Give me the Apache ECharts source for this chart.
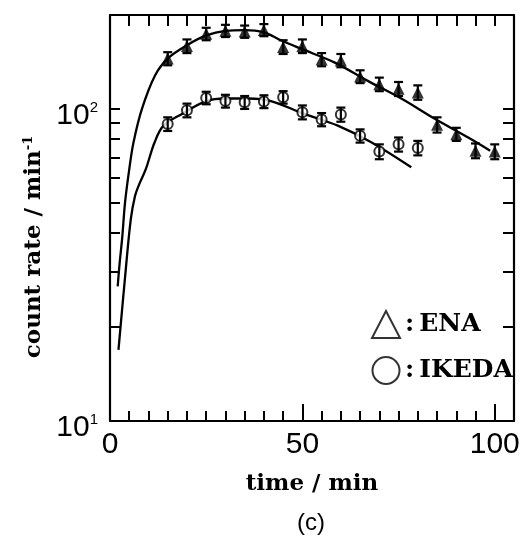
<!DOCTYPE html>
<html>
<head>
<meta charset="utf-8">
<script src="https://cdn.jsdelivr.net/npm/echarts@6/dist/echarts.min.js"></script>
<style>
  html, body { margin: 0; padding: 0; background: #fff; }
  #chart { width: 523px; height: 540px; }
</style>
</head>
<body>
<div id="chart"></div>
<script>
// Measured count rates (min^-1) versus elapsed time (min)
const enaTime = [15, 20, 25, 30, 35, 40, 45, 50, 55, 60, 65, 70, 75, 80, 85, 90, 95, 100];
const enaRate = [145, 159, 174, 178, 177, 179, 158, 159, 144, 143, 127, 120, 116, 113, 89, 83, 73.5, 73];
const enaErr  = [7, 8, 8, 8, 8, 8, 8, 8, 7, 7, 6, 6, 6, 6, 5, 4, 4, 4];

const ikedaTime = [15, 20, 25, 30, 35, 40, 45, 50, 55, 60, 65, 70, 75, 80];
const ikedaRate = [89.5, 99, 108.5, 106, 105, 105.6, 109, 97.6, 92.5, 96, 82, 73, 77, 75];
const ikedaErr  = [4.5, 5, 5, 5, 5, 5, 5, 5, 4.5, 5, 4, 4, 4, 4];

// Fitted growth/decay curves
const enaFitTime = [2.0, 2.5, 3.2, 3.9, 5.0, 6.1, 8.3, 11.7, 15, 20, 25, 30, 35, 40, 44.4, 49.6, 58.3, 67, 75.7, 84.4, 93.1, 98.8];
const enaFitRate = [27, 32, 39, 50, 64, 78, 100, 128, 145, 160, 172, 178, 179, 176, 166, 156, 141, 123, 108, 93, 81, 73.5];

const ikedaFitTime = [2.2, 4.1, 5.4, 6.5, 7.4, 9.3, 11.6, 13.9, 18.7, 25, 30, 36, 41.8, 50.5, 59.2, 67.9, 78.3];
const ikedaFitRate = [16.9, 30.6, 44.3, 52.6, 56.6, 64.1, 78.2, 88.4, 96.4, 106, 108, 108, 106, 96.4, 88.4, 78.2, 65];

// Axis ticks and labels
const xTickValues  = [5, 10, 15, 20, 25, 30, 35, 40, 45, 50, 55, 60, 65, 70, 75, 80, 85, 90, 95, 100];
const xMajorTicks  = [50, 100];
const xLabelValues = [0, 50, 100];
const yTickValues  = [20, 30, 40, 50, 60, 70, 80, 90, 100];
const yLabelValues = [10, 100];

const serif = 'DejaVu Serif';
const sans = 'Liberation Sans';
const black = '#000';

function errorBar(params, api) {
  const x = api.value(0);
  const top = api.coord([x, api.value(2)]);
  const bot = api.coord([x, api.value(1)]);
  const w = 4.5;
  const st = { stroke: black, lineWidth: 2.2 };
  return {
    type: 'group',
    children: [
      { type: 'line', shape: { x1: top[0], y1: top[1], x2: bot[0], y2: bot[1] }, style: st },
      { type: 'line', shape: { x1: top[0] - w, y1: top[1], x2: top[0] + w, y2: top[1] }, style: st },
      { type: 'line', shape: { x1: bot[0] - w, y1: bot[1], x2: bot[0] + w, y2: bot[1] }, style: st }
    ]
  };
}

const chart = echarts.init(document.getElementById('chart'), null, { renderer: 'canvas' });

const axisLine = { show: true, onZero: false, lineStyle: { color: black, width: 2.2 } };
const tickStyle = { color: black, width: 2 };

chart.setOption({
  animation: false,
  backgroundColor: '#fff',
  grid: { left: 110, right: 9, top: 15, bottom: 119 },
  legend: {
    orient: 'vertical',
    left: 366,
    top: 305,
    itemWidth: 28,
    itemHeight: 27,
    itemGap: 17,
    selectedMode: false,
    formatter: ':\u2009{name}',
    textStyle: { fontFamily: serif, fontWeight: 'bold', fontSize: 25, lineHeight: 27, color: black },
    data: [
      { name: 'ENA', icon: 'triangle', itemStyle: { color: '#fff', borderColor: black, borderWidth: 2 } },
      { name: 'IKEDA', icon: 'circle', itemStyle: { color: '#fff', borderColor: black, borderWidth: 2 } }
    ]
  },
  xAxis: [
    {
      type: 'value', min: 0, max: 105, interval: 5, position: 'bottom',
      name: 'time / min', nameLocation: 'middle', nameGap: 52,
      nameTextStyle: { fontFamily: serif, fontWeight: 'bold', fontSize: 23, color: black },
      axisLine: axisLine,
      axisTick: { show: true, inside: true, length: 10, customValues: xTickValues, lineStyle: tickStyle },
      axisLabel: { customValues: xLabelValues, margin: 9, fontFamily: sans, fontSize: 30, color: black },
      splitLine: { show: false }
    },
    {
      type: 'value', min: 0, max: 105, position: 'bottom',
      axisLine: { show: false, onZero: false },
      axisTick: { show: true, inside: true, length: 17, customValues: xMajorTicks, lineStyle: tickStyle },
      axisLabel: { show: false },
      splitLine: { show: false }
    },
    {
      type: 'value', min: 0, max: 105, position: 'top',
      axisLine: axisLine,
      axisTick: { show: true, inside: true, length: 11, customValues: xTickValues, lineStyle: tickStyle },
      axisLabel: { show: false },
      splitLine: { show: false }
    }
  ],
  yAxis: [
    {
      type: 'log', logBase: 10, min: 10, max: 200, position: 'left',
      name: 'count rate / min{sup|-1}', nameLocation: 'middle', nameGap: 62,
      nameTextStyle: {
        fontFamily: serif, fontWeight: 'bold', fontSize: 23, color: black,
        padding: [0, 58, 0, 0],
        rich: { sup: { fontFamily: serif, fontWeight: 'bold', fontSize: 13, verticalAlign: 'top', color: black } }
      },
      axisLine: axisLine,
      axisTick: { show: true, inside: true, length: 10, customValues: yTickValues, lineStyle: tickStyle },
      axisLabel: {
        customValues: yLabelValues, margin: 12, padding: [14, 0, 0, 0],
        formatter: function (v) { return '{b|10}{s|' + Math.round(Math.log10(v)) + '}'; },
        rich: {
          b: { fontFamily: sans, fontSize: 30, color: black, lineHeight: 32 },
          s: { fontFamily: sans, fontSize: 15, color: black, verticalAlign: 'top', lineHeight: 18 }
        }
      },
      splitLine: { show: false }
    },
    {
      type: 'log', logBase: 10, min: 10, max: 200, position: 'right',
      axisLine: axisLine,
      axisTick: { show: true, inside: true, length: 11, customValues: yTickValues, lineStyle: tickStyle },
      axisLabel: { show: false },
      splitLine: { show: false }
    }
  ],
  series: [
    {
      name: 'ENA fit', type: 'line', xAxisIndex: 0, yAxisIndex: 0,
      data: enaFitTime.map((t, i) => [t, enaFitRate[i]]),
      smooth: 0.35, showSymbol: false, lineStyle: { color: black, width: 2.3 }, z: 2
    },
    {
      name: 'IKEDA fit', type: 'line', xAxisIndex: 0, yAxisIndex: 0,
      data: ikedaFitTime.map((t, i) => [t, ikedaFitRate[i]]),
      smooth: 0.35, showSymbol: false, lineStyle: { color: black, width: 2.3 }, z: 2
    },
    {
      name: 'ENA', type: 'scatter', xAxisIndex: 0, yAxisIndex: 0,
      data: enaTime.map((t, i) => [t, enaRate[i]]),
      symbol: 'triangle', symbolSize: 12, itemStyle: { color: black }, z: 3
    },
    {
      name: 'IKEDA', type: 'scatter', xAxisIndex: 0, yAxisIndex: 0,
      data: ikedaTime.map((t, i) => [t, ikedaRate[i]]),
      symbol: 'circle', symbolSize: 10, itemStyle: { color: '#fff', borderColor: black, borderWidth: 2 }, z: 3
    },
    {
      name: 'ENA error', type: 'custom', xAxisIndex: 0, yAxisIndex: 0,
      data: enaTime.map((t, i) => [t, enaRate[i] - enaErr[i], enaRate[i] + enaErr[i]]),
      renderItem: errorBar, encode: { x: 0, y: [1, 2] }, z: 4
    },
    {
      name: 'IKEDA error', type: 'custom', xAxisIndex: 0, yAxisIndex: 0,
      data: ikedaTime.map((t, i) => [t, ikedaRate[i] - ikedaErr[i], ikedaRate[i] + ikedaErr[i]]),
      renderItem: errorBar, encode: { x: 0, y: [1, 2] }, z: 4
    }
  ],
  graphic: [
    {
      type: 'text', left: 297, top: 511,
      style: { text: '(c)', fontFamily: sans, fontSize: 24, fill: black }
    }
  ]
});
</script>
</body>
</html>
